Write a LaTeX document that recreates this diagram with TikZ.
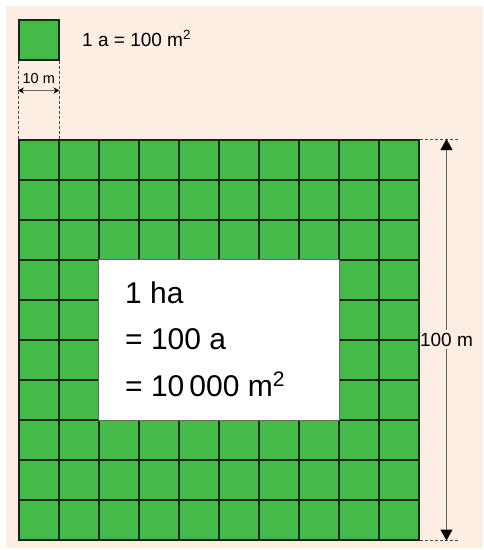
\documentclass[tikz,border=0pt]{standalone}
\usepackage{fontspec}
\setmainfont{Liberation Sans}
\usepackage{xcolor}
\usetikzlibrary{arrows.meta, positioning, calc, fit}

\definecolor{cream}{RGB}{252,238,227}
\definecolor{grass}{RGB}{68,186,72}
\definecolor{gridline}{RGB}{24,40,24}

\begin{document}
\begin{tikzpicture}[x=1pt, y=-1pt,
  cell/.style={draw=gridline, line width=1.5pt, fill=grass, minimum size=40pt, inner sep=0pt, anchor=north west},
  dimline/.style={draw=black!60, line width=1.1pt},
  helpline/.style={draw=black!70, dash pattern=on 3pt off 2pt, line width=1pt},
  lbl/.style={inner sep=0pt, font=\fontsize{19}{22}\selectfont},
  smalllbl/.style={inner sep=0pt, font=\fontsize{14.5}{16}\selectfont},
  biglbl/.style={inner sep=0pt, font=\fontsize{30}{36}\selectfont, anchor=base west}
]
\useasboundingbox (0,0) rectangle (483,550);
\fill[cream] (6,6) rectangle (483,548);

% one are
\node[cell] (are) at (18,19) {};
\node[lbl, anchor=base west] (arelbl) at (82,46) {1 a = 100 m\textsuperscript{2}};

% 10 x 10 ares
\foreach \i in {0,...,9}
  \foreach \j in {0,...,9}
    \node[cell] (c\i\j) at (18+40*\i, 139+40*\j) {};

% hectare box
\node[draw=black!60, fill=white, line width=0.8pt, inner sep=0pt, fit={(c23.north west) (c76.south east)}] (ha) {};
\node[biglbl] (ha1) at (125,303) {1 ha};
\node[biglbl] (ha2) at (125,349.5) {= 100 a};
\node[biglbl] (ha3) at (125,396) {= 10\,000 m\textsuperscript{2}};

% 10 m
\draw[helpline] (are.south west) -- (c00.north west);
\draw[helpline] (are.south east) -- (c00.north east);
\coordinate (al) at ($(are.south west)+(0,30)$);
\coordinate (ar) at ($(are.south east)+(0,30)$);
\draw[dimline, {Stealth[length=6pt,width=6pt,black]}-{Stealth[length=6pt,width=6pt,black]}] (al) -- (ar);
\node[smalllbl, anchor=base] (tenm) at ($(are.south)+(0,22.7)$) {10 m};

% 100 m
\coordinate (rt) at ($(c90.north east)+(39,0)$);
\coordinate (rb) at ($(c99.south east)+(39,0)$);
\draw[helpline] (c90.north east) -- (rt);
\draw[helpline] (c99.south east) -- (rb);
\coordinate (at) at ($(c90.north east)+(27,0)$);
\coordinate (ab) at ($(c99.south east)+(27,0)$);
\draw[dimline, {Triangle[length=11pt,width=12pt,black]}-{Triangle[length=11pt,width=12pt,black]}] (at) -- (ab)
  node[midway, lbl, fill=cream, inner xsep=0pt, inner ysep=3pt] (hundm) {100 m};
\end{tikzpicture}
\end{document}
